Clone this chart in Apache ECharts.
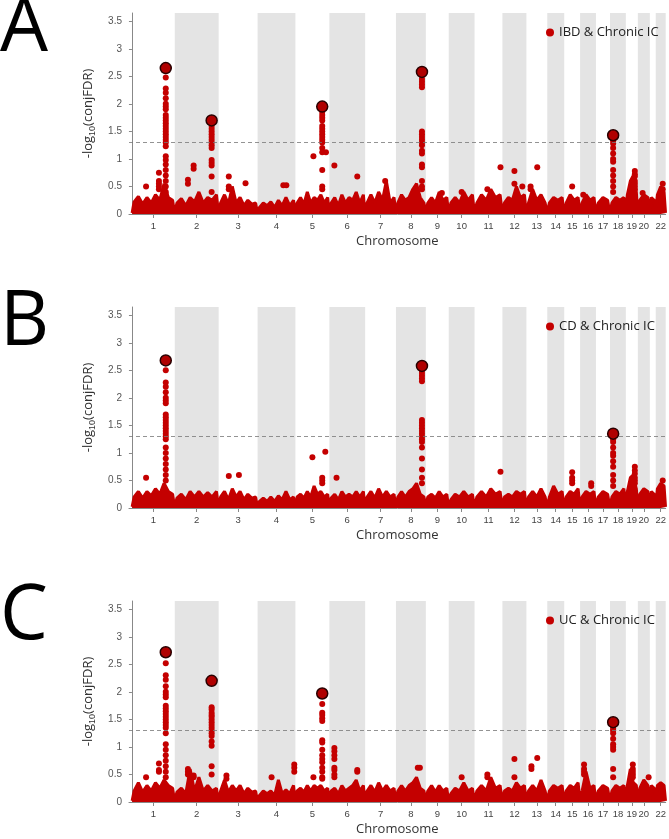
<!DOCTYPE html>
<html>
<head>
<meta charset="utf-8">
<script src="https://cdn.jsdelivr.net/npm/echarts@6/dist/echarts.min.js"></script>
<style>html,body{margin:0;padding:0;background:#fff}#main{width:669px;height:839px}</style>
</head>
<body>
<div id="main"></div>
<script>
// chromosome names and (plot) lengths
var chrNames = ['1','2','3','4','5','6','7','8','9','10','11','12','13','14','15','16','17','18','19','20','21','22'];
var chrLen = [232,238,211,205,184,194,167,162,124,140,151,130,113,92,86,86,76,86,65,65,32,54];
var yTicks = [0, 0.5, 1, 1.5, 2, 2.5, 3, 3.5];
var panelLetters = ['A', 'B', 'C'];
var panelNames = ['IBD & Chronic IC', 'CD & Chronic IC', 'UC & Chronic IC'];
var threshold = 1.3;

// dense background cloud, heights sampled along each chromosome
var floorA = [[0.22,0.32,0.18,0.3,0.2,0.35,0.25,0.55,0.3,0.25],[0.2,0.28,0.15,0.3,0.22,0.4,0.2,0.3,0.25,0.35],[0.2,0.35,0.18,0.5,0.2,0.3,0.15,0.25,0.18,0.2],
  [0.12,0.2,0.15,0.22,0.12,0.25,0.15,0.3,0.15,0.25],[0.2,0.3,0.18,0.4,0.2,0.3,0.25,0.35,0.2,0.3],[0.2,0.3,0.15,0.35,0.2,0.3,0.25,0.4,0.2,0.35],
  [0.2,0.35,0.2,0.4,0.25,0.6,0.2,0.3],[0.2,0.35,0.25,0.3,0.45,0.55,0.3,0.2],[0.2,0.3,0.2,0.4,0.25,0.3],[0.2,0.3,0.2,0.4,0.25,0.35],
  [0.2,0.35,0.25,0.45,0.3,0.35],[0.2,0.3,0.25,0.5,0.3,0.35],[0.2,0.45,0.25,0.35,0.2],[0.2,0.3,0.25,0.3],[0.2,0.35,0.25,0.3],
  [0.2,0.35,0.25,0.3],[0.2,0.3,0.25],[0.2,0.3,0.25,0.3],[0.35,0.6,0.7,0.4],[0.25,0.35,0.3],[0.3,0.25],[0.35,0.5,0.4]];
var floorB = [[0.2,0.3,0.18,0.3,0.22,0.35,0.25,0.45,0.3,0.25],[0.18,0.25,0.15,0.3,0.2,0.3,0.2,0.28,0.2,0.3],[0.2,0.3,0.15,0.35,0.2,0.3,0.15,0.25,0.18,0.2],
  [0.12,0.18,0.12,0.2,0.12,0.22,0.15,0.3,0.15,0.2],[0.2,0.25,0.18,0.3,0.2,0.4,0.25,0.3,0.2,0.25],[0.18,0.25,0.15,0.3,0.2,0.25,0.2,0.3,0.2,0.3],
  [0.2,0.3,0.18,0.35,0.2,0.3,0.2,0.25],[0.2,0.3,0.2,0.3,0.35,0.45,0.25,0.2],[0.2,0.25,0.18,0.3,0.2,0.25],[0.15,0.25,0.2,0.3,0.2,0.25],
  [0.2,0.3,0.2,0.35,0.25,0.3],[0.2,0.25,0.2,0.3,0.25,0.3],[0.2,0.3,0.2,0.35,0.2],[0.2,0.4,0.25,0.3],[0.2,0.3,0.25,0.35],
  [0.2,0.3,0.25,0.3],[0.2,0.3,0.25],[0.2,0.3,0.25,0.35],[0.3,0.55,0.6,0.35],[0.25,0.35,0.3],[0.3,0.25],[0.35,0.45,0.4]];
var floorC = [[0.2,0.35,0.18,0.3,0.2,0.35,0.25,0.4,0.3,0.25],[0.18,0.25,0.15,0.6,0.2,0.45,0.2,0.3,0.2,0.25],[0.2,0.4,0.18,0.3,0.2,0.3,0.15,0.25,0.18,0.2],
  [0.12,0.2,0.15,0.2,0.12,0.4,0.15,0.22,0.15,0.3],[0.2,0.25,0.18,0.3,0.2,0.3,0.25,0.3,0.2,0.25],[0.2,0.25,0.15,0.3,0.2,0.25,0.3,0.4,0.2,0.3],
  [0.2,0.3,0.18,0.35,0.2,0.3,0.2,0.25],[0.2,0.3,0.2,0.3,0.35,0.45,0.25,0.2],[0.2,0.3,0.18,0.3,0.2,0.25],[0.15,0.25,0.2,0.35,0.2,0.25],
  [0.2,0.3,0.2,0.45,0.25,0.3],[0.2,0.25,0.2,0.35,0.25,0.3],[0.2,0.3,0.2,0.4,0.2],[0.2,0.3,0.25,0.3],[0.2,0.3,0.25,0.35],
  [0.2,0.55,0.25,0.3],[0.2,0.3,0.25],[0.2,0.3,0.25,0.3],[0.3,0.6,0.35,0.3],[0.25,0.4,0.3],[0.3,0.25],[0.3,0.35,0.3]];

// spikes: [chromosome index, fraction along chromosome, values...]
var spikesA = [[0,0.79,2.48,2.28,2.2,2.1,2.0,1.95,1.9,1.8,1.75,1.7,1.65,1.6,1.55,1.5,1.45,1.4,1.35,1.3,1.23,1.05,0.98,0.9,0.8,0.7,0.6,0.5,0.4],
  [0,0.33,0.5],[0,0.63,0.75,0.6,0.55,0.5,0.45],
  [1,0.84,1.65,1.6,1.55,1.5,1.45,1.4,1.35,1.3,1.25,1.2,0.98,0.93,0.88,0.68,0.4],[1,0.43,0.88,0.82],[1,0.3,0.62,0.55],
  [2,0.26,0.68,0.5,0.45],[2,0.69,0.56],[3,0.68,0.52],[3,0.76,0.52],
  [4,0.79,1.9,1.85,1.8,1.75,1.7,1.6,1.55,1.5,1.45,1.4,1.35,1.3,1.2,1.12,0.8,0.5,0.45],[4,0.53,1.05],[4,0.9,1.12],
  [5,0.14,0.88],[5,0.78,0.68],[6,0.65,0.6],
  [7,0.87,2.52,2.45,2.4,2.35,2.3,1.5,1.45,1.4,1.35,1.3,1.25,1.15,1.1,0.9,0.85,0.6,0.5,0.45],
  [8,0.7,0.38],[9,0.5,0.4],[10,0.46,0.45],[10,0.93,0.85],[11,0.5,0.78,0.55],[11,0.83,0.5],[12,0.52,0.85],[12,0.2,0.5,0.45],
  [14,0.5,0.5],[15,0.2,0.35],
  [17,0.2,1.38,1.33,1.28,1.2,1.1,1.0,0.95,0.8,0.7,0.6,0.5,0.4],[18,0.75,0.78,0.72,0.68,0.6,0.55,0.5,0.45],[19,0.4,0.38],[21,0.7,0.55,0.45]];
var spikesB = [[0,0.79,2.5,2.28,2.2,2.1,2.0,1.95,1.9,1.7,1.65,1.6,1.55,1.5,1.45,1.4,1.35,1.3,1.25,1.1,1.0,0.9,0.8,0.7,0.6,0.5],
  [0,0.33,0.55],[2,0.26,0.58],[2,0.52,0.6],[4,0.5,0.92],[4,0.88,1.02],[4,0.79,0.55,0.5,0.45],[5,0.2,0.55],
  [7,0.87,2.5,2.45,2.4,2.35,2.3,1.6,1.55,1.5,1.45,1.4,1.35,1.3,1.25,1.2,1.1,0.9,0.7,0.55,0.45],
  [10,0.93,0.66],[14,0.5,0.65,0.55,0.5,0.45],[15,0.7,0.45,0.4],
  [17,0.2,1.3,1.25,1.2,1.1,1.0,0.95,0.85,0.75,0.6,0.5,0.4],[18,0.75,0.75,0.68,0.62,0.55,0.5,0.45],[21,0.7,0.5]];
var spikesC = [[0,0.79,2.52,2.3,2.22,2.1,2.0,1.95,1.9,1.75,1.7,1.65,1.6,1.55,1.5,1.45,1.4,1.35,1.25,1.05,0.95,0.85,0.75,0.65,0.55,0.45],
  [0,0.63,0.7,0.58,0.55],[0,0.33,0.45],
  [1,0.84,1.72,1.68,1.62,1.58,1.55,1.5,1.45,1.4,1.35,1.3,1.25,1.2,1.1,1.02,0.65,0.5],[1,0.3,0.6,0.55,0.5],[1,0.43,0.48,0.45],
  [2,0.2,0.48,0.42],[3,0.37,0.45],[3,0.97,0.68,0.62,0.55],
  [4,0.79,1.78,1.62,1.58,1.52,1.47,1.12,1.08,0.95,0.85,0.78,0.72,0.62,0.55,0.45,0.42],[4,0.53,0.45],
  [5,0.14,0.98,0.92,0.85,0.78,0.62,0.58,0.5,0.45],[5,0.78,0.58,0.55],
  [7,0.73,0.62],[7,0.8,0.62],[9,0.5,0.45],[10,0.46,0.5,0.45],[11,0.5,0.78,0.45],[12,0.24,0.65,0.6],[12,0.52,0.8],
  [15,0.25,0.68,0.6,0.55,0.5],[17,0.2,1.38,1.33,1.3,1.25,1.15,1.05,1.0,0.95,0.6,0.45],[18,0.58,0.68,0.6,0.55,0.5,0.45],[19,0.9,0.45]];
// lead SNPs: [chromosome index, fraction, value]
var leadA = [[0,0.79,2.65],[1,0.84,1.7],[4,0.79,1.95],[7,0.87,2.58],[17,0.2,1.43]];
var leadB = [[0,0.79,2.68],[7,0.87,2.58],[17,0.2,1.35]];
var leadC = [[0,0.79,2.72],[1,0.84,2.2],[4,0.79,1.97],[17,0.2,1.45]];

var floors = [floorA, floorB, floorC], spikes = [spikesA, spikesB, spikesC], leads = [leadA, leadB, leadC];
var offs = [], acc = 0;
chrLen.forEach(function (l) { offs.push(acc); acc += l; });
var total = acc;
var centers = chrLen.map(function (l, i) { return offs[i] + l / 2; });
function pos(c, f) { return offs[c] + f * chrLen[c]; }

var red = '#c40000';
var grids = [], xAxes = [], yAxes = [], series = [], legends = [], graphics = [];
var tops = [13, 307, 601];
for (var p = 0; p < 3; p++) {
    grids.push({left: 129, right: 1, top: tops[p], height: 201});
    xAxes.push({
        type: 'value', gridIndex: p, min: -16, max: total,
        name: 'Chromosome', nameLocation: 'middle', nameGap: 21,
        nameTextStyle: {fontSize: 13, color: '#333', fontFamily: 'Open Sans'},
        axisLine: {lineStyle: {color: '#888'}},
        splitLine: {show: false},
        axisTick: {customValues: centers, length: 4, lineStyle: {color: '#888'}},
        axisLabel: {customValues: centers, fontSize: 9.5, color: '#444', margin: 7, hideOverlap: false,
            showMinLabel: true, showMaxLabel: true,
            formatter: function (v) { var i = centers.indexOf(v); return i >= 0 ? chrNames[i] : ''; }}
    });
    yAxes.push({
        type: 'value', gridIndex: p, min: 0, max: 3.65,
        name: '{a|-log}{s|10}{a|(conjFDR)}', nameLocation: 'middle', nameGap: 28,
        nameTextStyle: {rich: {a: {fontSize: 13, color: '#333', fontFamily: 'Open Sans'}, s: {fontSize: 9, color: '#333', verticalAlign: 'bottom', padding: [8, 0, 0, 0]}}},
        axisLine: {show: true, lineStyle: {color: '#888'}},
        splitLine: {show: false},
        axisTick: {show: true, customValues: yTicks, length: 3, lineStyle: {color: '#888'}},
        axisLabel: {customValues: yTicks, fontSize: 10, color: '#555', margin: 7}
    });
    // bands and threshold
    var bands = [];
    for (var c = 1; c < 22; c += 2) bands.push([{xAxis: offs[c]}, {xAxis: offs[c] + chrLen[c]}]);
    series.push({
        type: 'line', xAxisIndex: p, yAxisIndex: p, data: [], z: 1, silent: true,
        markArea: {silent: true, itemStyle: {color: '#e4e4e4'}, data: bands},
        markLine: {silent: true, symbol: 'none', label: {show: false},
            lineStyle: {color: '#777', type: [4, 3], width: 0.8}, data: [{yAxis: threshold}]}
    });
    // background cloud
    var fl = [];
    floors[p].forEach(function (h, c) {
        fl.push([offs[c] + 1, 0.02]);
        h.forEach(function (v, i) { fl.push([pos(c, (i + 0.5) / h.length), v]); });
        fl.push([offs[c] + chrLen[c] - 1, 0.02]);
    });
    series.push({
        type: 'line', xAxisIndex: p, yAxisIndex: p, data: fl, z: 3, symbol: 'none', silent: true,
        lineStyle: {color: red, width: 3}, areaStyle: {color: red, opacity: 1}
    });
    var pts = [];
    spikes[p].forEach(function (s) {
        for (var k = 2; k < s.length; k++) pts.push([pos(s[0], s[1]), s[k]]);
    });
    series.push({
        name: panelNames[p], type: 'scatter', xAxisIndex: p, yAxisIndex: p, data: pts, z: 4,
        symbolSize: 6, itemStyle: {color: red, opacity: 1}
    });
    series.push({
        type: 'scatter', xAxisIndex: p, yAxisIndex: p, z: 5,
        data: leads[p].map(function (l) { return [pos(l[0], l[1]), l[2]]; }),
        symbolSize: 11, itemStyle: {color: '#b00000', borderColor: '#2a0000', borderWidth: 1.5, opacity: 1}
    });
    legends.push({data: [panelNames[p]], left: 541, top: tops[p] + 8, icon: 'circle', itemWidth: 8, itemHeight: 8,
        itemGap: 4, textStyle: {fontSize: 13, color: '#222', fontFamily: 'Open Sans'}});
    graphics.push({type: 'text', left: 0, top: tops[p] - 22, style: {text: panelLetters[p], fontSize: 76, fontFamily: 'Open Sans', fill: '#000'}});
}

var chart = echarts.init(document.getElementById('main'));
chart.setOption({
    animation: false,
    grid: grids, xAxis: xAxes, yAxis: yAxes, series: series, legend: legends, graphic: graphics
});
</script>
</body>
</html>
